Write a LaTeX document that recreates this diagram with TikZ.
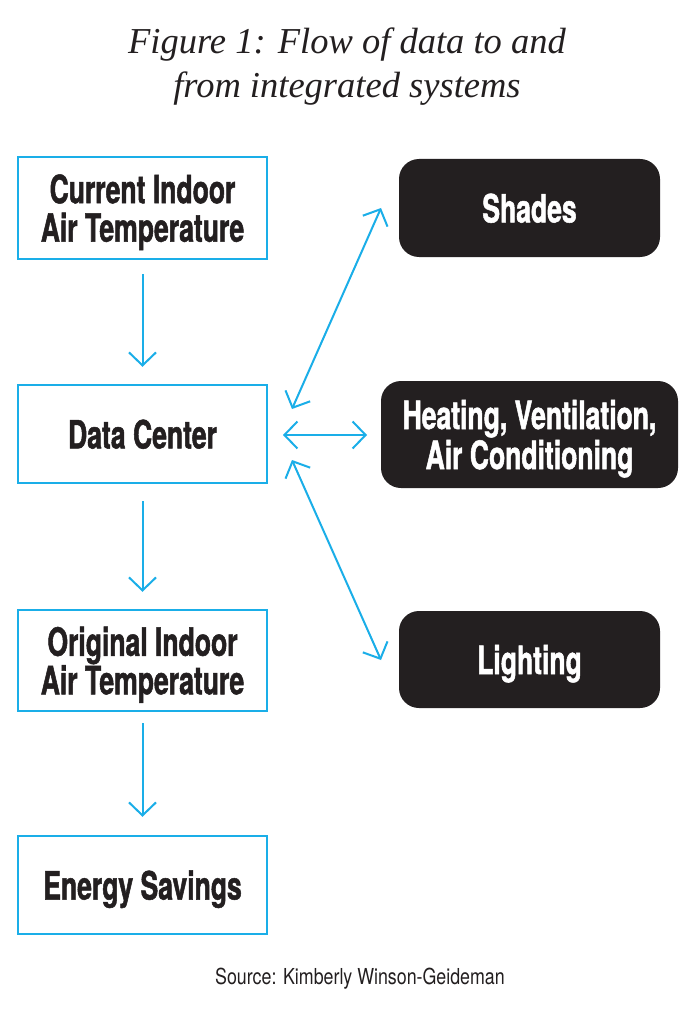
\documentclass[tikz,border=0pt]{standalone}
\usepackage{fontspec}
\usetikzlibrary{arrows.meta,calc}
\newfontfamily\condb{TeX Gyre Heros}[FakeStretch=0.68,FakeBold=1.3]
\newfontfamily\condr{TeX Gyre Heros}[FakeStretch=0.81]
\newfontfamily\titlefont{Liberation Serif}
\definecolor{flowblue}{HTML}{1AAEE8}
\definecolor{inkblack}{HTML}{231F20}
\begin{document}
\begin{tikzpicture}[x=1pt,y=-1pt,
  inbox/.style={draw=flowblue, line width=2.4pt, fill=white, minimum width=249pt,
    align=center, inner sep=0pt, text=inkblack, text depth=0pt,
    font=\condb\bfseries\fontsize{39}{38.5}\selectfont},
  outbox/.style={fill=inkblack, rounded corners=20pt, align=center, inner sep=0pt,
    text=white, text depth=0pt, font=\condb\bfseries\fontsize{39}{40}\selectfont},
  flow/.style={draw=flowblue, line width=2pt,
    -{Straight Barb[length=13pt,width=27pt,line width=2pt]}},
  dflow/.style={draw=flowblue, line width=2pt,
    {Straight Barb[length=13pt,width=27pt,line width=2pt]}-{Straight Barb[length=13pt,width=27pt,line width=2pt]}}
]
\useasboundingbox[fill=white] (0,0) rectangle (680,1024);

\node[text=inkblack, align=center, font=\titlefont\itshape\fontsize{36.5}{44}\selectfont] (title) at (347,67)
  {Figure 1: Flow of data to and\\from integrated systems};

\node[inbox, minimum height=102pt] (cur) at (142.5,208) {Current Indoor\\Air Temperature};
\node[inbox, minimum height=98pt] (dc) at (142.5,434) {Data Center};
\node[inbox, minimum height=101pt] (orig) at (142.5,660.5) {Original Indoor\\Air Temperature};
\node[inbox, minimum height=98pt] (es) at (142.5,885) {Energy Savings};

\node[outbox, minimum width=261pt, minimum height=98pt] (shades) at (529.5,208) {Shades};
\node[outbox, minimum width=297pt, minimum height=107pt] (hvac) at (529.5,434.5) {Heating, Ventilation,\\Air Conditioning};
\node[outbox, minimum width=261pt, minimum height=97pt] (light) at (529.5,659.5) {Lighting};

\node[text=inkblack, font=\condr\fontsize{22}{24}\selectfont] (src) at (360,979) {Source: Kimberly Winson-Geideman};

\draw[flow, shorten <=14pt, shorten >=17pt] (cur.south) -- (dc.north);
\draw[flow, shorten <=17pt, shorten >=17pt] (dc.south) -- (orig.north);
\draw[flow, shorten <=11pt, shorten >=18pt] (orig.south) -- (es.north);

\coordinate (dcA) at (292,409);
\coordinate (dcB) at (283,435);
\coordinate (dcC) at (292,460);
\coordinate (shA) at (381,208);
\coordinate (hvB) at (367,435);
\coordinate (liC) at (381,660);
\draw[dflow] (dcA) -- (shA);
\draw[dflow] (dcB) -- (hvB);
\draw[dflow] (dcC) -- (liC);
\end{tikzpicture}
\end{document}
